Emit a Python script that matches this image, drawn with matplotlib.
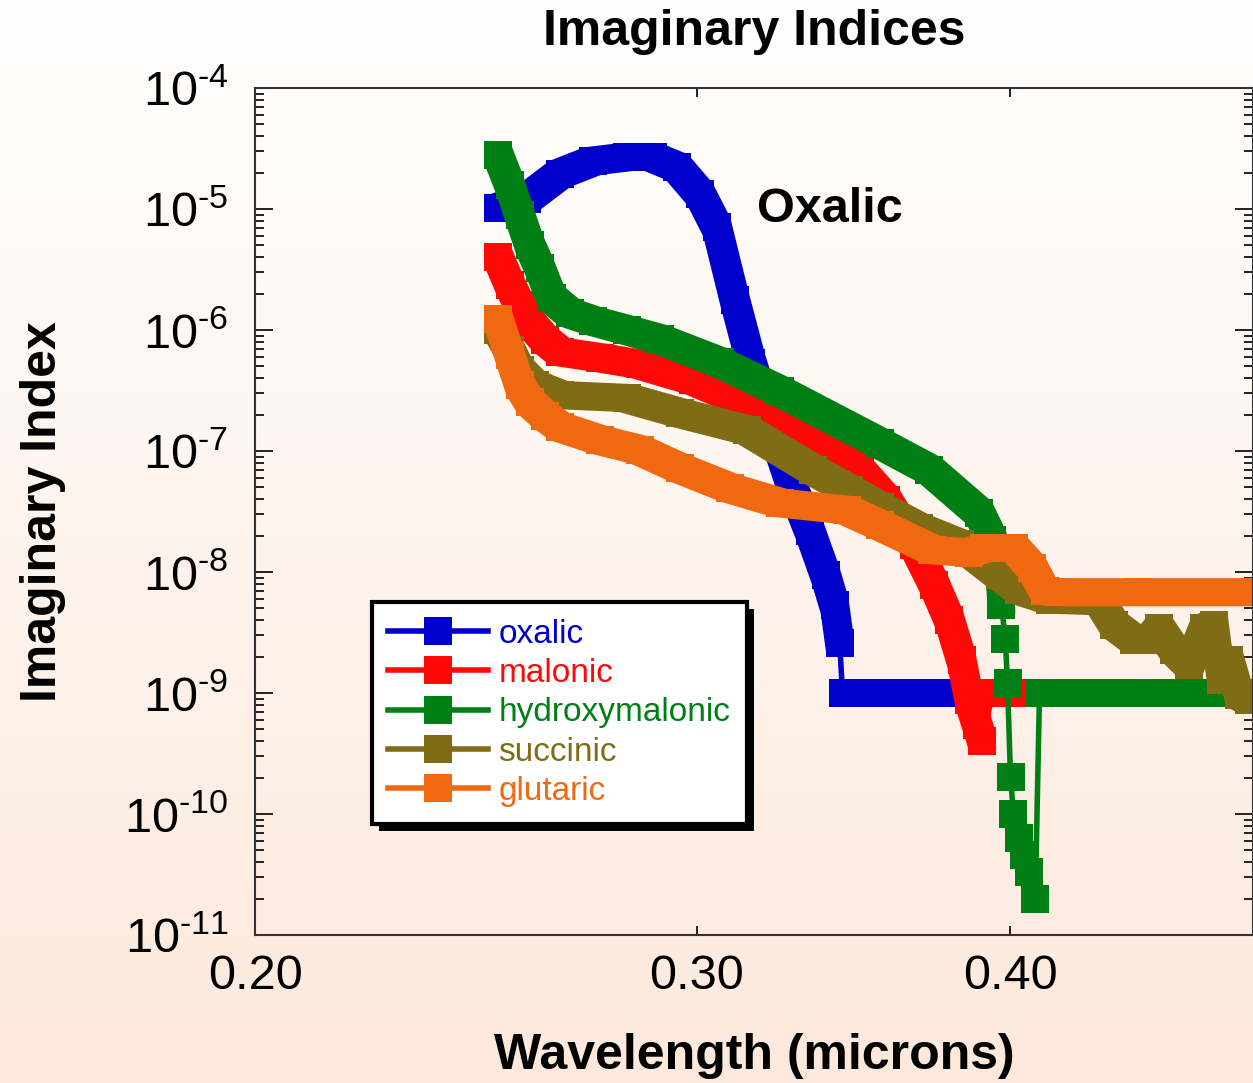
import numpy as np
import matplotlib
matplotlib.use("Agg")
import matplotlib.pyplot as plt
import matplotlib.patheffects as pe
from matplotlib.patches import Rectangle
from matplotlib.ticker import FixedLocator, FixedFormatter, NullLocator, LogLocator, FuncFormatter

plt.rcParams['font.family'] = ['Liberation Sans', 'DejaVu Sans']
plt.rcParams['mathtext.fontset'] = 'custom'
plt.rcParams['mathtext.rm'] = 'Liberation Sans'

# imaginary refractive index vs wavelength (microns)
oxalic_wl = [0.250, 0.2567, 0.2646, 0.2727, 0.2813, 0.2881, 0.2946, 0.3009, 0.3056,
             0.3107, 0.3155, 0.3208, 0.3267, 0.3328, 0.3377, 0.3405, 0.3421, 0.3430,
             0.370, 0.400, 0.450, 0.500]
oxalic_k = [1.02e-5, 1.21e-5, 1.95e-5, 2.49e-5, 2.69e-5, 2.69e-5, 2.22e-5, 1.33e-5, 7.1e-6,
            1.77e-6, 5.3e-7, 1.8e-7, 5.8e-8, 2.2e-8, 9.4e-9, 5.3e-9, 2.6e-9, 1.0e-9,
            1.0e-9, 1.0e-9, 1.0e-9, 1.0e-9]

malonic_wl = [0.250, 0.2527, 0.2550, 0.2574, 0.2610, 0.2646, 0.2745, 0.2847, 0.2989,
              0.3121, 0.3238, 0.3389, 0.3484, 0.3571, 0.3664, 0.3732, 0.3784, 0.3826,
              0.3854, 0.3882, 0.3900, 0.3936, 0.450, 0.500]
malonic_k = [4.0e-6, 2.36e-6, 1.61e-6, 1.16e-6, 8.3e-7, 6.6e-7, 5.9e-7, 5.2e-7, 3.86e-7,
             2.64e-7, 1.58e-7, 1.02e-7, 7.0e-8, 3.94e-8, 1.67e-8, 7.8e-9, 4.0e-9, 1.87e-9,
             8.7e-10, 5.4e-10, 4.0e-10, 1.0e-9, 1.0e-9, 1.0e-9]

hydroxy_wl = [0.250, 0.2527, 0.2550, 0.2574, 0.2598, 0.2626, 0.2670, 0.2727, 0.2813,
              0.2900, 0.3064, 0.3238, 0.3549, 0.3715, 0.3889, 0.3936, 0.3962, 0.3969,
              0.3983, 0.3991, 0.4002, 0.4013, 0.4035, 0.4053, 0.4072, 0.4094, 0.4110,
              0.450, 0.500]
hydroxy_k = [2.79e-5, 1.58e-5, 8.9e-6, 5.0e-6, 3.25e-6, 1.84e-6, 1.38e-6, 1.19e-6, 1.0e-6,
             8.4e-7, 5.4e-7, 3.13e-7, 1.16e-7, 7.0e-8, 3.08e-8, 1.84e-8, 1.08e-8, 5.3e-9,
             2.79e-9, 1.21e-9, 2.02e-10, 1.0e-10, 6.3e-11, 4.6e-11, 3.3e-11, 2.0e-11, 1.0e-9,
             1.0e-9, 1.0e-9]

succinic_wl = [0.250, 0.2527, 0.2550, 0.2586, 0.2646, 0.2813, 0.2954, 0.3141, 0.3337,
               0.3452, 0.3549, 0.3681, 0.3819, 0.3962, 0.4035, 0.4148, 0.4342, 0.4402,
               0.4484, 0.4546, 0.4588, 0.4651, 0.4716, 0.4781, 0.4825, 0.4857, 0.4892,
               0.4937, 0.4983]
succinic_k = [1.0e-6, 6.8e-7, 4.67e-7, 3.5e-7, 2.9e-7, 2.74e-7, 2.06e-7, 1.49e-7, 7.0e-8,
              4.76e-8, 3.44e-8, 2.31e-8, 1.70e-8, 9.4e-9, 7.1e-9, 5.9e-9, 5.75e-9, 3.65e-9,
              2.74e-9, 2.74e-9, 3.44e-9, 2.26e-9, 1.70e-9, 3.44e-9, 3.65e-9, 1.28e-9, 1.87e-9,
              9.6e-10, 8.7e-10]

glutaric_wl = [0.250, 0.2527, 0.2550, 0.2574, 0.2610, 0.2646, 0.2745, 0.2847, 0.2954,
               0.3092, 0.3238, 0.3443, 0.3549, 0.3725, 0.3854, 0.3907, 0.4016, 0.4083,
               0.4129, 0.4186, 0.450, 0.500]
glutaric_k = [1.23e-6, 6.2e-7, 3.5e-7, 2.54e-7, 1.95e-7, 1.58e-7, 1.23e-7, 1.02e-7, 7.2e-8,
              4.94e-8, 3.72e-8, 3.25e-8, 2.44e-8, 1.52e-8, 1.44e-8, 1.58e-8, 1.58e-8, 1.08e-8,
              6.97e-9, 6.8e-9, 6.8e-9, 6.8e-9]

names = ['oxalic', 'malonic', 'hydroxymalonic', 'succinic', 'glutaric']
colors = ['#0000cc', '#ff0808', '#007f14', '#806c14', '#f06810']
series = [(oxalic_wl, oxalic_k), (malonic_wl, malonic_k), (hydroxy_wl, hydroxy_k),
          (succinic_wl, succinic_k), (glutaric_wl, glutaric_k)]
# index ranges where the points are packed so tightly they form a solid band
dense = [[(0, 17), (17, None)], [(0, 21), (21, None)], [(0, 18), (26, None)],
         [(0, None)], [(0, None)]]

x_ticks = [0.2, 0.3, 0.4]
x_labels = ['0.20', '0.30', '0.40']

fig = plt.figure(figsize=(12.53, 10.83), dpi=100)

# white-to-peach background
bg = fig.add_axes([0, 0, 1, 1], zorder=-10)
frac = np.linspace(0, 1, 256)[:, None, None]
top = np.array([1.0, 1.0, 1.0])
bottom = np.array([253, 233, 220]) / 255
bg.imshow(top + (bottom - top) * frac, aspect='auto', extent=[0, 1, 0, 1], origin='upper')
bg.axis('off')

ax = fig.add_axes([255 / 1253, 148 / 1083, 998 / 1253, 847 / 1083])
ax.patch.set_alpha(0)
ax.set_xscale('log')
ax.set_yscale('log')

# square marker swept along the path: four round strokes offset to the corners
half = 5
sweep = [pe.Stroke(offset=(dx, dy), linewidth=10, capstyle='round', joinstyle='round')
         for dx in (-half, half) for dy in (-half, half)]

handles = []
for (wl, k), name, c, ranges in zip(series, names, colors, dense):
    for a, b in ranges:
        ax.plot(wl[a:b], k[a:b], color=c, lw=10, path_effects=sweep)
    h, = ax.plot(wl, k, color=c, lw=4, marker='s', ms=20, mew=0, label=name)
    handles.append(h)

ax.text(0.317, 1.0e-5, 'Oxalic', fontsize=35, fontweight='bold', ha='left', va='center')

ax.set_xlim(0.2, 0.5)
ax.set_ylim(1e-11, 1e-4)
ax.xaxis.set_major_locator(FixedLocator(x_ticks))
ax.xaxis.set_major_formatter(FixedFormatter(x_labels))
ax.xaxis.set_minor_locator(NullLocator())
ax.yaxis.set_major_locator(LogLocator(base=10, numticks=20))
ax.yaxis.set_minor_locator(LogLocator(base=10, subs=np.arange(2, 10), numticks=20))
# decade labels with a short hyphen in the exponent
ax.yaxis.set_major_formatter(FuncFormatter(
    lambda v, pos: '$\\mathregular{10^{\u2010%d}}$' % round(-np.log10(v))))

ax.tick_params(which='both', direction='in', top=True, right=True, width=1.4, color='#222222')
ax.tick_params(axis='y', which='major', length=13, labelsize=35, pad=19)
ax.tick_params(axis='y', which='minor', length=6.5)
ax.tick_params(axis='x', which='major', length=6.5, labelsize=35, pad=14)
for sp in ax.spines.values():
    sp.set_linewidth(1.5)
    sp.set_color('#333333')

ax.set_title('Imaginary Indices', fontsize=36, fontweight='bold', pad=31)
ax.set_xlabel('Wavelength (microns)', fontsize=36, fontweight='bold')
ax.xaxis.set_label_coords(0.5, -0.116)
ax.set_ylabel('Imaginary Index', fontsize=36, fontweight='bold')
ax.yaxis.set_label_coords(-0.189, 0.5)

leg = ax.legend(handles, names, loc='upper left', bbox_to_anchor=(0.117, 0.393),
                fontsize=24, labelcolor='linecolor', handlelength=3.0, handletextpad=0.3,
                borderpad=0.5, labelspacing=0.25, borderaxespad=0, fancybox=False,
                framealpha=1, edgecolor='black', numpoints=1)
leg.get_frame().set_linewidth(3)

# solid drop shadow under the legend box
fig.canvas.draw()
bb = leg.get_window_extent()
inv = fig.transFigure.inverted()
x0, y0 = inv.transform((bb.x0 + 7, bb.y0 - 7))
x1, y1 = inv.transform((bb.x1 + 7, bb.y1 - 7))
ax.add_patch(Rectangle((x0, y0), x1 - x0, y1 - y0, transform=fig.transFigure,
                       facecolor='black', edgecolor='none', zorder=4.9, clip_on=False))

fig.savefig('out.png', dpi=100)
